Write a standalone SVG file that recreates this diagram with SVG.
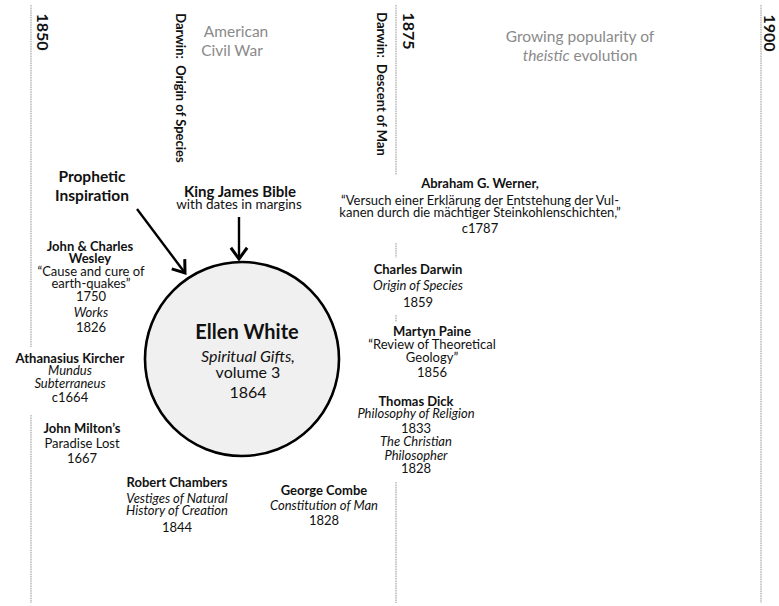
<svg xmlns="http://www.w3.org/2000/svg" width="779" height="606" viewBox="0 0 779 606">
  <style>
    text { font-family: Lato, "Open Sans", "Liberation Sans", sans-serif; fill: #111; text-anchor: middle; }
    .b { font-weight: bold; }
    .i { font-style: italic; }
    .s13 { font-size: 13px; }
    .yr { font-size: 16px; font-weight: bold; }
    .rot { font-size: 13px; font-weight: bold; }
    .era { font-size: 15.5px; fill: #8a8a8a; }
    .axis { stroke: #b4b4b4; stroke-width: 1.4; stroke-dasharray: 1.6 0.8; fill: none; }
    .arrow { stroke: #000; stroke-width: 2.4; fill: none; marker-end: url(#head); }
  </style>
  <defs>
    <marker id="head" markerUnits="userSpaceOnUse" markerWidth="20" markerHeight="20" viewBox="-12 -8 14 16" refX="0" refY="0" orient="auto">
      <path d="M-9,-6.5 L0,0 L-9,6.5" stroke="#000" stroke-width="2.4" fill="none"/>
    </marker>
  </defs>
  <rect width="779" height="606" fill="#fff"/>

  <!-- timeline axis lines, broken where text blocks sit over them -->
  <g id="axes">
    <path class="axis" d="M31,5 V347 M31,415 V603"/>
    <path class="axis" d="M396,5 V175 M396,243 V258 M396,315 V322 M396,482 V603"/>
    <path class="axis" d="M761,5 V603"/>
  </g>

  <!-- timeline markers (rotated) -->
  <g id="year-1850"><text class="yr" transform="translate(37,32) rotate(90)">1850</text></g>
  <g id="year-1875"><text class="yr" transform="translate(403,31) rotate(90)">1875</text></g>
  <g id="year-1900"><text class="yr" font-size="15.5" transform="translate(763.5,33) rotate(90)">1900</text></g>
  <g id="darwin-origin"><text class="rot" transform="translate(176,88) rotate(90)" xml:space="preserve">Darwin:  Origin of Species</text></g>
  <g id="darwin-descent"><text class="rot" transform="translate(377,84) rotate(90)" xml:space="preserve">Darwin:  Descent of Man</text></g>

  <!-- era captions -->
  <g id="civil-war">
    <text class="era" x="236" y="37">American</text>
    <text class="era" x="232" y="56">Civil War</text>
  </g>
  <g id="theistic">
    <text class="era" x="580" y="42">Growing popularity of</text>
    <text class="era" x="580" y="61"><tspan class="i">theistic</tspan> evolution</text>
  </g>

  <!-- connectors -->
  <g id="connectors">
    <line class="arrow" x1="137" y1="209" x2="185" y2="273"/>
    <line class="arrow" x1="239" y1="217" x2="239" y2="259"/>
  </g>

  <!-- central node -->
  <g id="ellen-white">
    <circle cx="242" cy="359" r="97" fill="#f0f0f0" stroke="#000" stroke-width="2.6"/>
    <text class="b" font-size="20" x="247" y="339">Ellen White</text>
    <text class="i" font-size="16" x="248" y="362">Spiritual Gifts,</text>
    <text font-size="16" x="248" y="378">volume 3</text>
    <text font-size="16" x="248" y="398">1864</text>
  </g>

  <g id="prophetic-inspiration">
    <text class="b" font-size="15.5" x="92" y="182">Prophetic</text>
    <text class="b" font-size="15.5" x="92" y="201">Inspiration</text>
  </g>

  <g id="king-james">
    <text class="b" font-size="15" x="240" y="197">King James Bible</text>
    <text font-size="13.5" x="239" y="209">with dates in margins</text>
  </g>

  <g id="wesley">
    <text class="b s13" x="90" y="251">John &amp; Charles</text>
    <text class="b s13" x="90" y="263">Wesley</text>
    <text class="s13" x="91" y="276">“Cause and cure of</text>
    <text class="s13" x="91" y="288">earth-quakes”</text>
    <text class="s13" x="91" y="301">1750</text>
    <text class="s13 i" x="91" y="317">Works</text>
    <text class="s13" x="91" y="332">1826</text>
  </g>

  <g id="kircher">
    <text class="b s13" x="70" y="363">Athanasius Kircher</text>
    <text class="s13 i" x="70" y="375">Mundus</text>
    <text class="s13 i" x="70" y="388">Subterraneus</text>
    <text class="s13" x="70" y="402">c1664</text>
  </g>

  <g id="milton">
    <text class="b s13" x="82" y="433">John Milton’s</text>
    <text class="s13" x="82" y="448">Paradise Lost</text>
    <text class="s13" x="82" y="463">1667</text>
  </g>

  <g id="chambers">
    <text class="b s13" x="177" y="487">Robert Chambers</text>
    <text class="s13 i" x="177" y="503">Vestiges of Natural</text>
    <text class="s13 i" x="177" y="515">History of Creation</text>
    <text class="s13" x="177" y="532">1844</text>
  </g>

  <g id="combe">
    <text class="b s13" x="324" y="495">George Combe</text>
    <text class="s13 i" x="324" y="510">Constitution of Man</text>
    <text class="s13" x="324" y="525">1828</text>
  </g>

  <g id="werner">
    <text class="b s13" x="480" y="188">Abraham G. Werner,</text>
    <text class="s13" x="480" y="205">“Versuch einer Erklärung der Entstehung der Vul-</text>
    <text class="s13" x="480" y="217">kanen durch die mächtiger Steinkohlenschichten,”</text>
    <text class="s13" x="480" y="233">c1787</text>
  </g>

  <g id="darwin">
    <text class="b s13" x="418" y="274">Charles Darwin</text>
    <text class="s13 i" x="418" y="290">Origin of Species</text>
    <text class="s13" x="418" y="307">1859</text>
  </g>

  <g id="paine">
    <text class="b s13" x="432" y="336">Martyn Paine</text>
    <text class="s13" x="432" y="349">“Review of Theoretical</text>
    <text class="s13" x="432" y="362">Geology”</text>
    <text class="s13" x="432" y="377">1856</text>
  </g>

  <g id="dick">
    <text class="b s13" x="416" y="406">Thomas Dick</text>
    <text class="s13 i" x="416" y="418">Philosophy of Religion</text>
    <text class="s13" x="416" y="433">1833</text>
    <text class="s13 i" x="416" y="446">The Christian</text>
    <text class="s13 i" x="416" y="460">Philosopher</text>
    <text class="s13" x="416" y="473">1828</text>
  </g>
</svg>
